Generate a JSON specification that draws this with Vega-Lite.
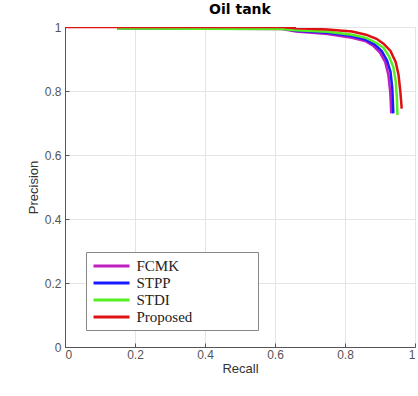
{
  "$schema": "https://vega.github.io/schema/vega-lite/v6.json",
  "width": 350,
  "height": 320,
  "autosize": "none",
  "padding": {"left": 65, "top": 27, "right": 3, "bottom": 49},
  "background": "white",
  "title": {"text": "Oil tank", "font": "DejaVu Sans", "fontSize": 14, "fontWeight": "bold", "color": "#000000", "anchor": "middle", "offset": 4},
  "config": {
    "view": {"stroke": "#d0d0d0", "strokeWidth": 1},
    "axis": {
      "labelFont": "Liberation Sans", "labelFontSize": 12, "labelColor": "#555555",
      "titleFont": "Liberation Sans", "titleFontSize": 13, "titleFontWeight": "normal", "titleColor": "#333333",
      "gridColor": "#e4e4e4", "gridWidth": 1,
      "domainColor": "#555555", "domainWidth": 1,
      "tickColor": "#555555", "tickSize": -4
    }
  },
  "data": {"values": [
    {"method": "FCMK", "recall": 0.15, "precision": 0.996},
    {"method": "FCMK", "recall": 0.62, "precision": 0.994},
    {"method": "FCMK", "recall": 0.66, "precision": 0.986},
    {"method": "FCMK", "recall": 0.75, "precision": 0.978},
    {"method": "FCMK", "recall": 0.82, "precision": 0.966},
    {"method": "FCMK", "recall": 0.86, "precision": 0.955},
    {"method": "FCMK", "recall": 0.88, "precision": 0.942},
    {"method": "FCMK", "recall": 0.90, "precision": 0.92},
    {"method": "FCMK", "recall": 0.915, "precision": 0.89},
    {"method": "FCMK", "recall": 0.924, "precision": 0.85},
    {"method": "FCMK", "recall": 0.929, "precision": 0.80},
    {"method": "FCMK", "recall": 0.931, "precision": 0.76},
    {"method": "FCMK", "recall": 0.932, "precision": 0.73},
    {"method": "STPP", "recall": 0.15, "precision": 0.996},
    {"method": "STPP", "recall": 0.62, "precision": 0.995},
    {"method": "STPP", "recall": 0.66, "precision": 0.988},
    {"method": "STPP", "recall": 0.75, "precision": 0.982},
    {"method": "STPP", "recall": 0.82, "precision": 0.972},
    {"method": "STPP", "recall": 0.86, "precision": 0.96},
    {"method": "STPP", "recall": 0.885, "precision": 0.945},
    {"method": "STPP", "recall": 0.905, "precision": 0.925},
    {"method": "STPP", "recall": 0.92, "precision": 0.895},
    {"method": "STPP", "recall": 0.93, "precision": 0.86},
    {"method": "STPP", "recall": 0.935, "precision": 0.81},
    {"method": "STPP", "recall": 0.937, "precision": 0.76},
    {"method": "STPP", "recall": 0.938, "precision": 0.73},
    {"method": "STDI", "recall": 0.15, "precision": 0.995},
    {"method": "STDI", "recall": 0.62, "precision": 0.994},
    {"method": "STDI", "recall": 0.66, "precision": 0.99},
    {"method": "STDI", "recall": 0.75, "precision": 0.985},
    {"method": "STDI", "recall": 0.82, "precision": 0.976},
    {"method": "STDI", "recall": 0.86, "precision": 0.966},
    {"method": "STDI", "recall": 0.89, "precision": 0.95},
    {"method": "STDI", "recall": 0.91, "precision": 0.935},
    {"method": "STDI", "recall": 0.925, "precision": 0.91},
    {"method": "STDI", "recall": 0.938, "precision": 0.875},
    {"method": "STDI", "recall": 0.945, "precision": 0.83},
    {"method": "STDI", "recall": 0.948, "precision": 0.78},
    {"method": "STDI", "recall": 0.95, "precision": 0.725},
    {"method": "Proposed", "recall": 0.0, "precision": 1.0},
    {"method": "Proposed", "recall": 0.62, "precision": 1.0},
    {"method": "Proposed", "recall": 0.66, "precision": 0.996},
    {"method": "Proposed", "recall": 0.75, "precision": 0.992},
    {"method": "Proposed", "recall": 0.82, "precision": 0.986},
    {"method": "Proposed", "recall": 0.86, "precision": 0.976},
    {"method": "Proposed", "recall": 0.89, "precision": 0.963},
    {"method": "Proposed", "recall": 0.91, "precision": 0.948},
    {"method": "Proposed", "recall": 0.93, "precision": 0.925},
    {"method": "Proposed", "recall": 0.945, "precision": 0.89},
    {"method": "Proposed", "recall": 0.953, "precision": 0.85},
    {"method": "Proposed", "recall": 0.958, "precision": 0.80},
    {"method": "Proposed", "recall": 0.961, "precision": 0.76},
    {"method": "Proposed", "recall": 0.962, "precision": 0.745}
  ]},
  "mark": {"type": "line", "strokeWidth": 2.5, "clip": true},
  "encoding": {
    "x": {"field": "recall", "type": "quantitative", "title": "Recall",
      "scale": {"domain": [0, 1], "nice": false, "zero": false},
      "axis": {"values": [0, 0.2, 0.4, 0.6, 0.8, 1], "format": ".1~f", "labelPadding": 6, "titlePadding": 2}},
    "y": {"field": "precision", "type": "quantitative", "title": "Precision",
      "scale": {"domain": [0, 1], "nice": false, "zero": false},
      "axis": {"values": [0, 0.2, 0.4, 0.6, 0.8, 1], "format": ".1~f", "labelPadding": 8, "titlePadding": 4}},
    "color": {"field": "method", "type": "nominal", "title": null,
      "scale": {"domain": ["FCMK", "STPP", "STDI", "Proposed"], "range": ["#c01fc0", "#1a1aff", "#55ee22", "#dd1111"]},
      "legend": {
        "orient": "none", "legendX": 21, "legendY": 225,
        "direction": "vertical",
        "labelFont": "Liberation Serif", "labelFontSize": 15, "labelColor": "#222222",
        "labelExpr": "datum.label + '                \u200b'",
        "symbolType": "M-2.4,0H2.4", "symbolStrokeWidth": 3, "symbolSize": 225,
        "symbolOffset": 11.5,
        "labelOffset": 16, "rowPadding": 0, "padding": 5,
        "strokeColor": "#888888", "fillColor": "white",
        "labelLimit": 300
      }
    },
    "order": {"field": "recall", "type": "quantitative"}
  }
}
